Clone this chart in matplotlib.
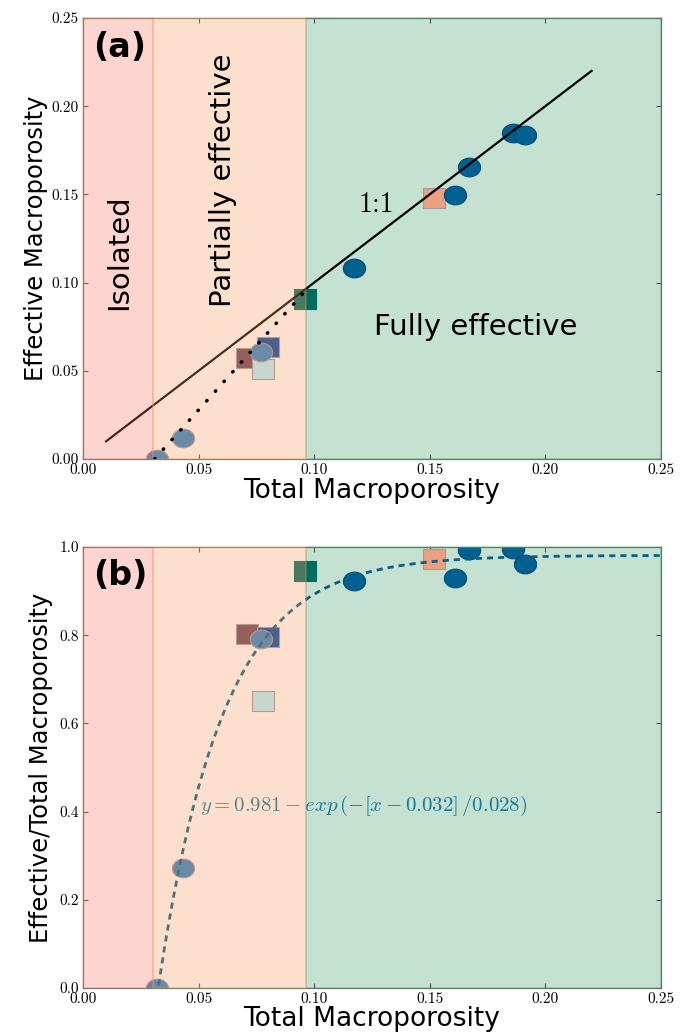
import numpy as np
import matplotlib
matplotlib.use("Agg")
import matplotlib.pyplot as plt
from matplotlib.path import Path
from matplotlib.ticker import FixedLocator, FormatStrFormatter

# ---------------- data ----------------
# dark-blue circle samples
blue_total = [0.1172, 0.1610, 0.1670, 0.1860, 0.1910]
blue_effective = [0.1081, 0.1497, 0.1657, 0.1850, 0.1837]
# grey-blue circle samples
grey_total = [0.0321, 0.0431, 0.0769]
grey_effective = [0.0000, 0.0117, 0.0608]
# square samples
square_total = [0.0711, 0.0800, 0.0780, 0.0960, 0.1518]
square_effective = [0.0571, 0.0637, 0.0508, 0.0907, 0.1478]
square_colors = ["#6d4660", "#0046a0", "#b4f1ff", "#006b5f", "#eba082"]

# region limits and names
region_edges = [0.0, 0.0305, 0.0963, 0.25]
region_colors = ["#fc7369", "#f89b5c", "#419e69"]
region_names = ["Isolated", "Partially effective", "Fully effective"]

# 1:1 line and dotted trend in panel (a)
one_to_one = [0.01, 0.22]
trend_x = [0.031, 0.096]
trend_y = [0.000, 0.095]

# exponential fit shown in panel (b)
fit_a, fit_x0, fit_s = 0.981, 0.032, 0.028
fit_range = [0.032, 0.25]

x_ticks = [0.00, 0.05, 0.10, 0.15, 0.20, 0.25]
ya_ticks = [0.00, 0.05, 0.10, 0.15, 0.20, 0.25]
yb_ticks = [0.0, 0.2, 0.4, 0.6, 0.8, 1.0]

# ---------------- style ----------------
plt.rcParams["mathtext.fontset"] = "cm"
OVERLAY_ALPHA = 0.3
BLUE = "#00608f"
GREYBLUE = "#2f83c8"
EDGE = "#a09aa0"
REGION_Z = [2.6, 2.6, 1.0]   # red/orange tint lies over the marks, green lies under

circ = Path.unit_circle()
ellipse_marker = Path(circ.vertices * np.array([1.0, 0.84]), circ.codes)
rect_marker = Path([[-1, -0.88], [1, -0.88], [1, 0.88], [-1, 0.88], [-1, -0.88]],
                   [Path.MOVETO, Path.LINETO, Path.LINETO, Path.LINETO, Path.CLOSEPOLY])

fig = plt.figure(figsize=(6.88, 10.33), dpi=100)
ax_a = fig.add_axes([0.1206, 0.5557, 0.840, 0.4269])
ax_b = fig.add_axes([0.1206, 0.0436, 0.840, 0.4269])


def style_axes(ax, yticks, yfmt):
    ax.set_xlim(0, 0.25)
    ax.set_ylim(yticks[0], yticks[-1])
    ax.xaxis.set_major_locator(FixedLocator(x_ticks))
    ax.yaxis.set_major_locator(FixedLocator(yticks))
    ax.xaxis.set_major_formatter(FormatStrFormatter("%.2f"))
    ax.yaxis.set_major_formatter(FormatStrFormatter(yfmt))
    ax.tick_params(direction="in", top=True, right=True, length=3.5, width=0.8,
                   color="0.3", labelsize=11, pad=3)
    for lab in ax.get_xticklabels() + ax.get_yticklabels():
        lab.set_fontfamily("cmr10")
    for sp in ax.spines.values():
        sp.set_color("#5a7f66")
        sp.set_linewidth(0.9)
    for (x0, x1), c, z in zip(zip(region_edges[:-1], region_edges[1:]), region_colors, REGION_Z):
        ax.axvspan(x0, x1, facecolor=c, edgecolor=c, alpha=OVERLAY_ALPHA, lw=1.2,
                   zorder=z, clip_on=False)


def draw_markers(ax, ratio=False):
    def yv(t, e):
        return [ei / ti for ti, ei in zip(t, e)] if ratio else e
    for x, y, c in zip(square_total, yv(square_total, square_effective), square_colors):
        ax.plot([x], [y], marker=rect_marker, ms=16, mfc=c,
                mec=c if c == "#006b5f" else EDGE, mew=0.8, ls="none", zorder=2)
    ax.plot(grey_total, yv(grey_total, grey_effective), marker=ellipse_marker, ms=16,
            mfc=GREYBLUE, mec=EDGE, mew=0.8, ls="none", zorder=2.05)
    ax.plot(blue_total, yv(blue_total, blue_effective), marker=ellipse_marker, ms=16,
            mfc=BLUE, mec="#004a70", mew=0.8, ls="none", zorder=2.05)


# ---------------- panel (a) ----------------
style_axes(ax_a, ya_ticks, "%.2f")
draw_markers(ax_a)
ax_a.plot(one_to_one, one_to_one, color="black", lw=1.6, zorder=2.2)
ax_a.plot(trend_x, trend_y, color="black", lw=2.6, ls=(0, (0.1, 3.5)),
          dash_capstyle="round", zorder=3)
ax_a.text(0.0045, 0.2335, "(a)", fontsize=24, fontweight="bold", va="center", ha="left", zorder=5)
ax_a.text(0.0155, 0.117, region_names[0], rotation=90, fontsize=21, ha="center", va="center", zorder=5)
ax_a.text(0.0605, 0.158, region_names[1], rotation=90, fontsize=21, ha="center", va="center", zorder=5)
ax_a.text(0.170, 0.0703, region_names[2], fontsize=21, ha="center", va="baseline", zorder=5)
ax_a.text(0.1194, 0.140, "1:1", fontsize=20, family="cmr10", ha="left", va="baseline", zorder=5)
ax_a.set_xlabel("Total Macroporosity", fontsize=19, labelpad=1)
ax_a.set_ylabel("Effective Macroporosity", fontsize=17.5)
ax_a.yaxis.set_label_coords(-0.06, 0.5)

# ---------------- panel (b) ----------------
style_axes(ax_b, yb_ticks, "%.1f")
draw_markers(ax_b, ratio=True)
xf = np.linspace(fit_range[0], fit_range[1], 300)
yf = fit_a - np.exp(-(xf - fit_x0) / fit_s)
ax_b.plot(xf, yf, color="#0a5f87", lw=2.0, ls=(0, (2.2, 1.8)), zorder=2.2)
ax_b.text(0.0506, 0.413, r"$y = 0.981 - exp\,(-[x - 0.032]\,/0.028)$", fontsize=15,
          color="#14789a", ha="left", va="center", zorder=2.3)
ax_b.text(0.0045, 0.935, "(b)", fontsize=24, fontweight="bold", va="center", ha="left", zorder=5)
ax_b.set_xlabel("Total Macroporosity", fontsize=19, labelpad=0)
ax_b.set_ylabel("Effective/Total Macroporosity", fontsize=17.5)
ax_b.yaxis.set_label_coords(-0.052, 0.5)

fig.savefig("out.png", dpi=100)
